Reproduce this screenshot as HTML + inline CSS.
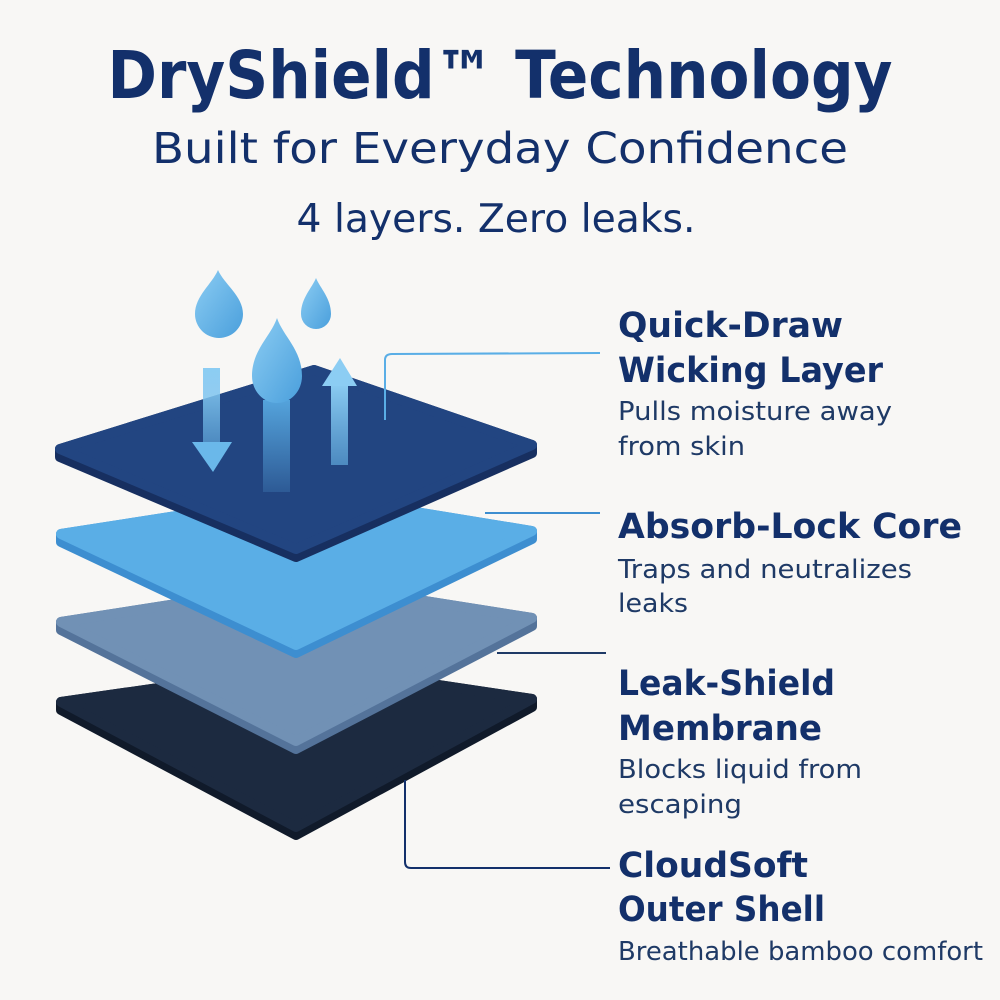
<!DOCTYPE html>
<html><head><meta charset="utf-8"><style>
html,body{margin:0;padding:0;background:#f8f7f5;}
svg{display:block}
text{font-family:"DejaVu Sans","Liberation Sans",sans-serif;}
.h{font-weight:bold;fill:#13306b;font-size:35px}
.d{fill:#1f3a66;font-size:26px}
</style></head><body>
<svg width="1000" height="1000" viewBox="0 0 1000 1000" xmlns="http://www.w3.org/2000/svg">
<defs>
<linearGradient id="drop" x1="0" y1="0" x2="1" y2="1"><stop offset="0" stop-color="#8ccdf3"/><stop offset="1" stop-color="#4a9fdc"/></linearGradient>
<linearGradient id="col" x1="0" y1="0" x2="0" y2="1"><stop offset="0" stop-color="#5aaee6" stop-opacity="0.9"/><stop offset="1" stop-color="#5aaee6" stop-opacity="0.2"/></linearGradient>
<linearGradient id="up" x1="0" y1="0" x2="0" y2="1"><stop offset="0" stop-color="#8ccdf3"/><stop offset="1" stop-color="#6ab8ea" stop-opacity="0.6"/></linearGradient>
</defs>
<rect width="1000" height="1000" fill="#f8f7f5"/>
<text x="500" y="98" text-anchor="middle" font-size="66" font-weight="bold" fill="#13306b" textLength="785" lengthAdjust="spacingAndGlyphs">DryShield™ Technology</text>
<text x="500" y="163" text-anchor="middle" font-size="43" fill="#13306b" textLength="696" lengthAdjust="spacingAndGlyphs">Built for Everyday Confidence</text>
<text x="496" y="232" text-anchor="middle" font-size="39" fill="#13306b" textLength="399" lengthAdjust="spacingAndGlyphs">4 layers. Zero leaks.</text>

<g stroke-linejoin="round">
<path d="M61,702 L311,666 L532,699 L532,707 L296,835 L61,710 Z" fill="#101a2a" stroke="#101a2a" stroke-width="10"/>
<path d="M61,702 L311,666 L532,699 L296,827 Z" fill="#1c2a40" stroke="#1c2a40" stroke-width="10"/>
<path d="M61,622 L311,583 L532,618 L532,626 L296,749 L61,630 Z" fill="#54739a" stroke="#54739a" stroke-width="10"/>
<path d="M61,622 L311,583 L532,618 L296,741 Z" fill="#7191b5" stroke="#7191b5" stroke-width="10"/>
<path d="M61,534 L311,495 L532,531 L532,539 L296,653 L61,542 Z" fill="#3d8ed0" stroke="#3d8ed0" stroke-width="10"/>
<path d="M61,534 L311,495 L532,531 L296,645 Z" fill="#5aaee6" stroke="#5aaee6" stroke-width="10"/>
<path d="M60,449 L314,370 L532,445 L532,453 L296,557 L60,457 Z" fill="#172f60" stroke="#172f60" stroke-width="10"/>
<path d="M60,449 L314,370 L532,445 L296,549 Z" fill="#224581" stroke="#224581" stroke-width="10"/>
</g>

<rect x="203" y="368" width="17" height="76" fill="url(#up)"/>
<path d="M192,442 L232,442 L213,472 Z" fill="#6ab8ea"/>
<rect x="263" y="400" width="27" height="92" fill="url(#col)"/>
<rect x="331" y="383" width="17" height="82" fill="url(#up)"/>
<path d="M322,386 L357,386 L340,358 Z" fill="#8ccdf3"/>
<path d="M218,270 C224,284 243,296 243,314 A24,24 0 0 1 195,314 C195,296 212,284 218,270 Z" fill="url(#drop)"/>
<path d="M316,278 C320,288 331,298 331,314 A15,15 0 0 1 301,314 C301,298 312,288 316,278 Z" fill="url(#drop)"/>
<path d="M277,318 C283,336 302,350 302,376 A25,27 0 0 1 252,376 C252,350 271,336 277,318 Z" fill="url(#drop)"/>

<path d="M385,420 L385,360 Q385,354 392,354 L600,353" fill="none" stroke="#5aaee6" stroke-width="2"/>
<path d="M485,513 L600,513" fill="none" stroke="#3d8ed0" stroke-width="2"/>
<path d="M497,653 L606,653" fill="none" stroke="#1f3a66" stroke-width="2"/>
<path d="M405,780 L405,862 Q405,868 411,868 L610,868" fill="none" stroke="#13306b" stroke-width="2"/>

<text class="h" x="618" y="337" textLength="225" lengthAdjust="spacingAndGlyphs">Quick-Draw</text>
<text class="h" x="618" y="382" textLength="265" lengthAdjust="spacingAndGlyphs">Wicking Layer</text>
<text class="d" x="618" y="420" textLength="274" lengthAdjust="spacingAndGlyphs">Pulls moisture away</text>
<text class="d" x="618" y="455" textLength="127" lengthAdjust="spacingAndGlyphs">from skin</text>

<text class="h" x="618" y="538" textLength="344" lengthAdjust="spacingAndGlyphs">Absorb-Lock Core</text>
<text class="d" x="618" y="578" textLength="294" lengthAdjust="spacingAndGlyphs">Traps and neutralizes</text>
<text class="d" x="618" y="612" textLength="70" lengthAdjust="spacingAndGlyphs">leaks</text>

<text class="h" x="618" y="695" textLength="217" lengthAdjust="spacingAndGlyphs">Leak-Shield</text>
<text class="h" x="618" y="740" textLength="204" lengthAdjust="spacingAndGlyphs">Membrane</text>
<text class="d" x="618" y="778" textLength="244" lengthAdjust="spacingAndGlyphs">Blocks liquid from</text>
<text class="d" x="618" y="813" textLength="124" lengthAdjust="spacingAndGlyphs">escaping</text>

<text class="h" x="618" y="877" textLength="190" lengthAdjust="spacingAndGlyphs">CloudSoft</text>
<text class="h" x="618" y="921" textLength="207" lengthAdjust="spacingAndGlyphs">Outer Shell</text>
<text class="d" x="618" y="960" textLength="365" lengthAdjust="spacingAndGlyphs">Breathable bamboo comfort</text>
</svg>
</body></html>
